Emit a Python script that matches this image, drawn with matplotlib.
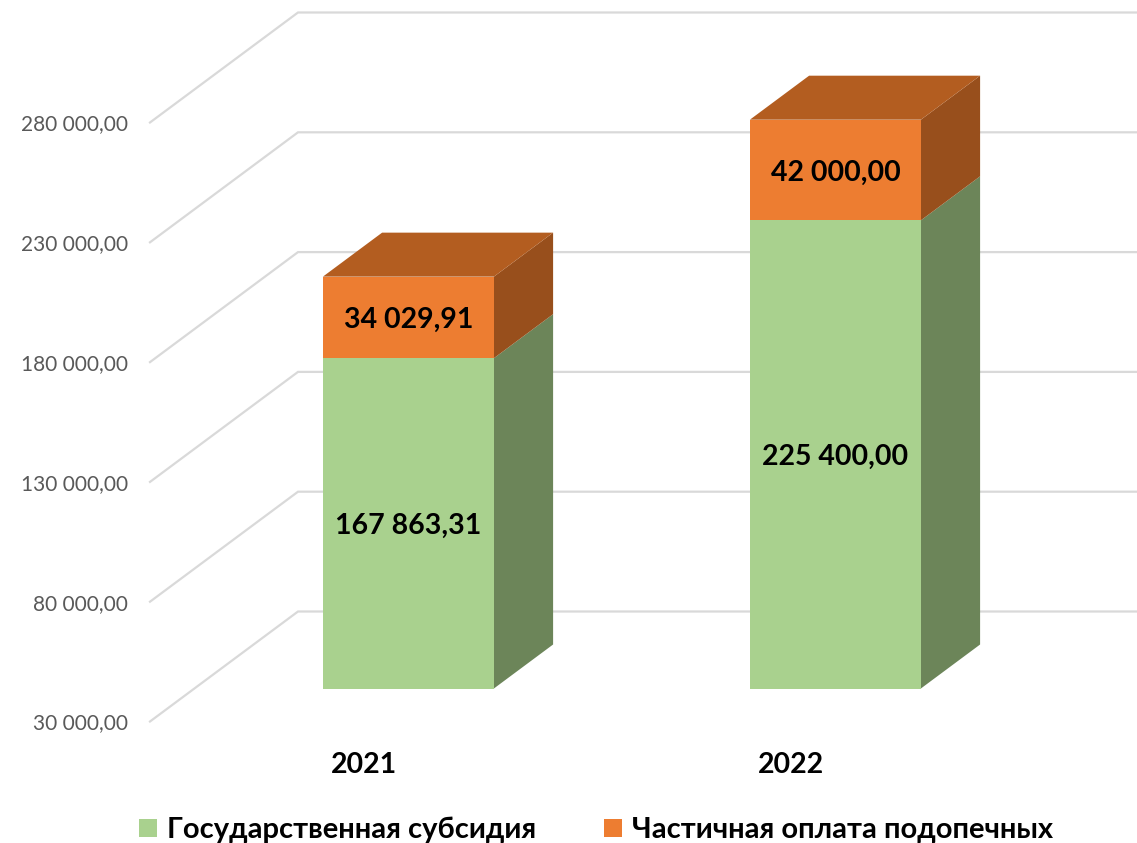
import matplotlib
matplotlib.use("Agg")
import matplotlib.pyplot as plt

plt.rcParams['font.family'] = ['Lato', 'Noto Sans', 'DejaVu Sans']

years = ["2021", "2022"]
subsidy = [167863.31, 225400.00]
partial_pay = [34029.91, 42000.00]
axis_ticks = [30000, 80000, 130000, 180000, 230000, 280000]
series_names = ["Государственная субсидия", "Частичная оплата подопечных"]


def fmt(v):
    return f"{v:,.2f}".replace(",", " ").replace(".", ",")


# scale of the picture: pixels per category and per value unit
PX_X = 427.0
PX_Y = 0.002396
AXIS_MIN = 30000

# depth of the 3d floor, in data units
depth_x = 148 / PX_X
depth_y = 110 / PX_Y
# bars sit from 30% to 70% of that depth
off_x = 0.3 * depth_x
off_y = 0.3 * depth_y
bar_dx = 0.4 * depth_x
bar_dy = 0.4 * depth_y
bar_w = 171 / PX_X

fig = plt.figure(figsize=(11.37, 8.43), dpi=100)
ax = fig.add_axes([0, 0, 1, 1])
ax.set_xlim(-364 / PX_X, (1137 - 364) / PX_X)
ax.set_ylim(AXIS_MIN + (721.5 - 843) / PX_Y, AXIS_MIN + 721.5 / PX_Y)

# walls: slanted line on the floor side, then flat line to the right edge
left_x = (150 - 364) / PX_X
right_x = ax.get_xlim()[1]
for t in axis_ticks:
    ax.plot([left_x, left_x + depth_x, right_x], [t, t + depth_y, t + depth_y],
            color="#d9d9d9", lw=1.6, solid_joinstyle="miter", zorder=1)

green, orange = "#a9d18e", "#ed7d31"
green_side, orange_side, orange_top = "#6c8559", "#984f1c", "#b35d20"

for i in range(len(years)):
    x0 = i + off_x - bar_w / 2
    x1 = x0 + bar_w
    base = AXIS_MIN + off_y
    mid = subsidy[i] + off_y
    top = subsidy[i] + partial_pay[i] + off_y
    ax.fill([x1, x1 + bar_dx, x1 + bar_dx, x1], [base, base + bar_dy, mid + bar_dy, mid],
            color=green_side, lw=0, zorder=3)
    ax.fill([x1, x1 + bar_dx, x1 + bar_dx, x1], [mid, mid + bar_dy, top + bar_dy, top],
            color=orange_side, lw=0, zorder=3)
    ax.fill([x0, x1, x1 + bar_dx, x0 + bar_dx], [top, top, top + bar_dy, top + bar_dy],
            color=orange_top, lw=0, zorder=3)

pos = [i + off_x for i in range(len(years))]
bar1 = ax.bar(pos, [v - AXIS_MIN for v in subsidy], bar_w, bottom=AXIS_MIN + off_y,
              color=green, label=series_names[0], zorder=4)
bar2 = ax.bar(pos, partial_pay, bar_w, bottom=[v + off_y for v in subsidy],
              color=orange, label=series_names[1], zorder=4)

label_shift = 2.5 / PX_Y
for i in range(len(years)):
    y1 = (AXIS_MIN + subsidy[i]) / 2 + off_y - label_shift
    y2 = subsidy[i] + partial_pay[i] / 2 + off_y - label_shift
    ax.text(pos[i], y1, fmt(subsidy[i]), ha="center", va="center",
            fontsize=20.5, fontweight="bold", color="black", zorder=5)
    ax.text(pos[i], y2, fmt(partial_pay[i]), ha="center", va="center",
            fontsize=20.5, fontweight="bold", color="black", zorder=5)

for s in ["top", "right"]:
    ax.spines[s].set_visible(False)
ax.spines["left"].set_position(("data", (128 - 364) / PX_X))
ax.spines["bottom"].set_position(("data", AXIS_MIN + (721 - 742) / PX_Y))
ax.spines["left"].set_visible(False)
ax.spines["bottom"].set_visible(False)
ax.set_yticks(axis_ticks)
ax.set_yticklabels([fmt(t) for t in axis_ticks])
ax.tick_params(axis="y", length=0, pad=0, labelsize=15, labelcolor="#595959")
ax.set_xticks(range(len(years)))
ax.set_xticklabels(years, fontweight="bold")
ax.tick_params(axis="x", length=0, pad=6.5, labelsize=20.5, labelcolor="black")

ax.legend(handles=[bar1, bar2], loc="center", bbox_to_anchor=(596 / 1137, 1 - 830 / 843),
          ncol=2, frameon=False, prop={"size": 21, "weight": "bold"},
          handlelength=0.62, handleheight=0.62, handletextpad=0.35, columnspacing=2.3,
          borderpad=0, borderaxespad=0)

fig.savefig("out.png", dpi=100)
